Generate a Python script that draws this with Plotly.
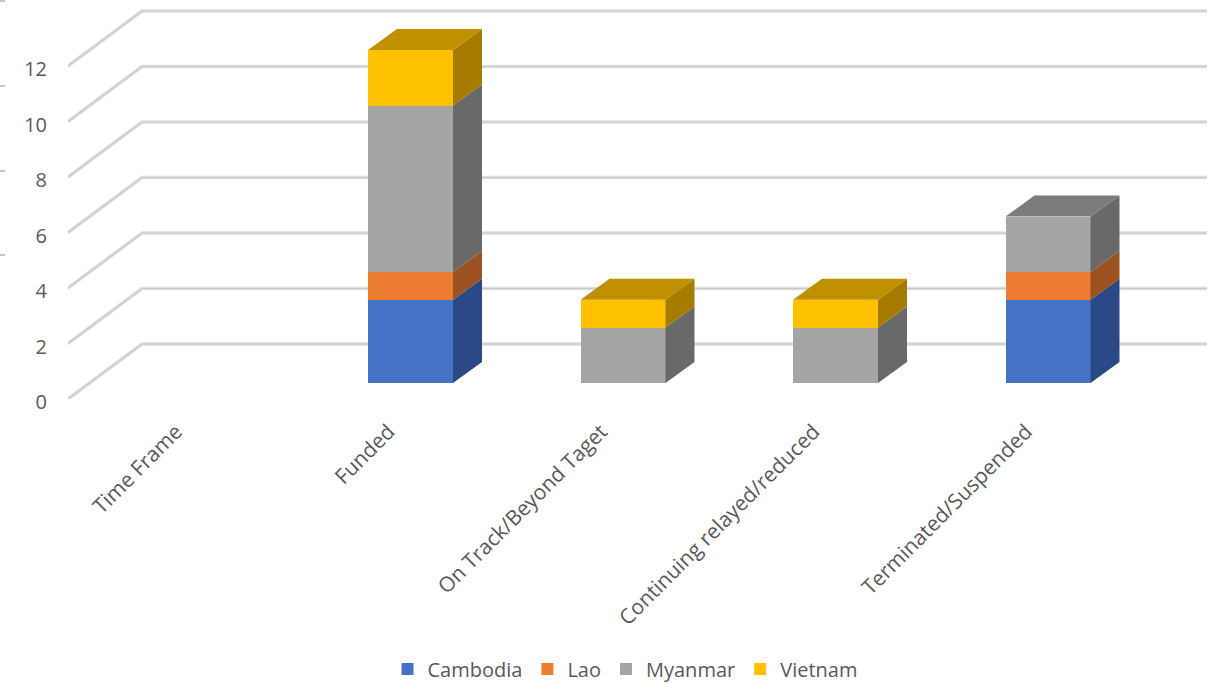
import plotly.graph_objects as go

categories = ["Time Frame", "Funded", "On Track/Beyond Taget", "Continuing relayed/reduced", "Terminated/Suspended"]
cambodia = [0, 3, 0, 0, 3]
lao = [0, 1, 0, 0, 1]
myanmar = [0, 6, 2, 2, 2]
vietnam = [0, 2, 1, 1, 0]
y_ticks = [0, 2, 4, 6, 8, 10, 12]

series = [
    ("Cambodia", cambodia, "#4472C4", "#2A4A85", "#335595"),
    ("Lao", lao, "#ED7D31", "#9C5120", "#B85F25"),
    ("Myanmar", myanmar, "#A5A5A5", "#696969", "#7C7C7C"),
    ("Vietnam", vietnam, "#FFC000", "#A57C00", "#BF9000"),
]

TEXT = "#595959"
FONT = "Open Sans"
CAT_PX = 212.5
UNIT_PX = 27.75
L, B, W, H = 68, 285, 1217, 684
plot_w, plot_h = W - L, H - B
x_span = plot_w / CAT_PX
y_span = plot_h / UNIT_PX

# floor depth, bar depth, bar front offset, all in axis units
wall_dx, wall_dy = 74 / CAT_PX, 55 / UNIT_PX
bar_dx, bar_dy = 29 / CAT_PX, 21 / UNIT_PX
shift_x, shift_y = 23.75 / CAT_PX, 16 / UNIT_PX
bar_w = 85 / CAT_PX
right_end = -0.5 + (1207 - L) / CAT_PX

fig = go.Figure()

# wall gridlines on the primary axes
gx, gy = [], []
for v in y_ticks:
    gx += [-0.5, -0.5 + wall_dx, right_end, None]
    gy += [v, v + wall_dy, v + wall_dy, None]
fig.add_trace(go.Scatter(x=gx, y=gy, mode="lines", line=dict(color="#DEDEDE", width=3.5),
                         showlegend=False, hoverinfo="skip", cliponaxis=False, xaxis="x", yaxis="y"))
fig.add_trace(go.Scatter(x=gx, y=gy, mode="lines", line=dict(color="#CACACA", width=1.2),
                         showlegend=False, hoverinfo="skip", cliponaxis=False, xaxis="x", yaxis="y"))

# front faces
idx = list(range(len(categories)))
for name, vals, front, side, top in series:
    fig.add_trace(go.Bar(x=idx, y=vals, name=name, width=bar_w, marker=dict(color=front, line=dict(width=0)),
                         xaxis="x2", yaxis="y2"))

# side and top faces, derived from the stacked values
base = [0] * len(categories)
for k, (name, vals, front, side, top) in enumerate(series):
    sx, sy, tx, ty = [], [], [], []
    for i, v in enumerate(vals):
        if v == 0:
            continue
        r = i + bar_w / 2
        b0, b1 = base[i], base[i] + v
        sx += [r, r + bar_dx, r + bar_dx, r, r, None]
        sy += [b0, b0 + bar_dy, b1 + bar_dy, b1, b0, None]
        if not any(s[1][i] for s in series[k + 1:]):
            l = i - bar_w / 2
            tx += [l, l + bar_dx, r + bar_dx, r, l, None]
            ty += [b1, b1 + bar_dy, b1 + bar_dy, b1, b1, None]
        base[i] = b1
    fig.add_trace(go.Scatter(x=sx, y=sy, mode="lines", fill="toself", fillcolor=side, line=dict(width=0, color=side),
                             showlegend=False, hoverinfo="skip", xaxis="x2", yaxis="y2"))
    if tx:
        fig.add_trace(go.Scatter(x=tx, y=ty, mode="lines", fill="toself", fillcolor=top, line=dict(width=0, color=top),
                                 showlegend=False, hoverinfo="skip", xaxis="x2", yaxis="y2"))

hidden = dict(visible=False, fixedrange=True)
fig.update_layout(
    width=W, height=H, barmode="stack", plot_bgcolor="white", paper_bgcolor="white",
    margin=dict(l=L, r=0, t=0, b=B, autoexpand=False),
    font=dict(family=FONT, color=TEXT, size=18),
    xaxis=dict(range=[-0.5, -0.5 + x_span], tickvals=idx, ticktext=categories, tickangle=-45,
               showgrid=False, zeroline=False, showline=False, ticks="outside", ticklen=11, ticklabelshift=2,
               tickcolor="rgba(0,0,0,0)", tickfont=dict(size=21, color=TEXT, family=FONT)),
    yaxis=dict(range=[0, y_span], tickvals=y_ticks, showgrid=False, zeroline=False, showline=False,
               ticks="outside", ticklen=16, tickcolor="rgba(0,0,0,0)", ticklabelshift=3,
               tickfont=dict(size=20, color=TEXT, family=FONT)),
    xaxis2=dict(overlaying="x", range=[-0.5 - shift_x, -0.5 - shift_x + x_span], **hidden),
    yaxis2=dict(overlaying="y", range=[-shift_y, y_span - shift_y], **hidden),
    legend=dict(orientation="h", traceorder="normal", x=(625 - L) / plot_w, xanchor="center",
                y=(plot_h - 669) / plot_h, yanchor="middle",
                font=dict(size=20, color=TEXT, family=FONT), itemclick=False, itemdoubleclick=False,
                bgcolor="rgba(0,0,0,0)"),
    shapes=[dict(type="line", xref="paper", yref="paper", x0=-L / plot_w, x1=(5 - L) / plot_w,
                 y0=(plot_h - p) / plot_h, y1=(plot_h - p) / plot_h, line=dict(color="#C8C8C8", width=2))
            for p in [1, 86, 171, 255]],
)

fig.write_html("out.html", config={"displayModeBar": False},
               post_script="document.body.style.margin='0';")
